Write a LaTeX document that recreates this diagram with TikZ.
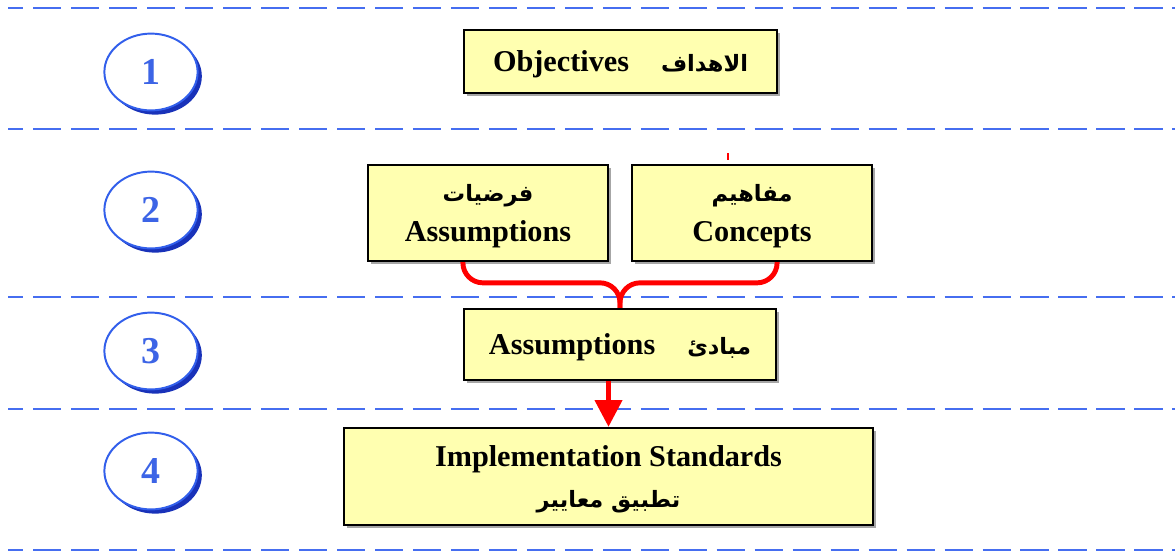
\documentclass[tikz,border=0pt]{standalone}
\usepackage{fontspec}
\setmainfont{Liberation Serif}
\newfontfamily\arabicfont[Script=Arabic]{DejaVu Sans}
\TeXXeTstate=1
\usetikzlibrary{arrows.meta, calc, positioning, shapes.geometric, shadows}

\definecolor{lineblue}{RGB}{70,110,240}
\definecolor{ringblue}{RGB}{50,95,235}
\definecolor{shadeblue}{RGB}{25,50,185}
\definecolor{numblue}{RGB}{60,100,230}
\definecolor{boxyellow}{RGB}{255,255,176}
\newcommand{\arab}[1]{{\arabicfont\fontsize{16}{29}\selectfont\beginR #1\endR}}

\begin{document}
\begin{tikzpicture}[
  x=0.025cm, y=-0.025cm,
  box/.style={rectangle, draw, line width=1.5pt, fill=boxyellow, align=center,
    inner sep=0pt, text depth=0pt, font=\fontsize{21.5}{29}\selectfont\bfseries,
    drop shadow={shadow xshift=2pt, shadow yshift=-2pt, fill=black!35, opacity=1}},
  level/.style={ellipse, draw=ringblue, line width=1.4pt, fill=white,
    minimum width=2.33cm, minimum height=1.92cm, text=numblue,
    font=\fontsize{27}{30}\selectfont\bfseries,
    drop shadow={shadow xshift=3pt, shadow yshift=-3pt, fill=shadeblue, opacity=1}},
  sep/.style={draw=lineblue, line width=1.4pt, dash pattern=on 20pt off 7pt, dash phase=9pt},
  brace/.style={draw=red, line width=3.5pt, rounded corners=0.5cm},
  arrow/.style={draw=red, line width=3.5pt, -{Triangle[width=19pt, length=19pt]}}
]
\useasboundingbox (0,0) rectangle (1175,554);

% Separators
\foreach \y in {8,129,297,409,550}
  \draw[sep] (8,\y) -- (1175,\y);

% Level numbers
\foreach \n/\y in {1/72,2/210,3/351,4/471}
  \node[level] (lv\n) at (151,\y) {\n};

% Boxes
\node[box, minimum width=7.83cm, minimum height=1.58cm] (obj) at (620.5,61.5)
  {Objectives\hspace{0.8cm}\arab{الاهداف}};
\node[box, minimum width=6cm, minimum height=2.4cm] (assum) at (488,213)
  {\arab{فرضيات}\\Assumptions};
\node[box, minimum width=6cm, minimum height=2.4cm] (conc) at (752,213)
  {\arab{مفاهيم}\\Concepts};
\node[box, minimum width=7.8cm, minimum height=1.78cm] (mid) at (620,344.5)
  {Assumptions\hspace{0.8cm}\arab{مبادئ}};
\node[box, minimum width=13.23cm, minimum height=2.43cm] (impl) at (608.5,476.5)
  {Implementation Standards\\\arab{تطبيق معايير}};

% Brace into the principles
\coordinate (tip) at (mid.north);
\draw[brace] (assum.south -| mid.west) |- ($(tip)+(0,-25)$) -- (tip);
\draw[brace] (conc.south -| mid.east) |- ($(tip)+(0,-25)$) -- (tip);

% Arrow down
\draw[arrow] (mid.south -| impl.north) -- (impl.north);

% stray mark
\draw[red, line width=0.8pt] (728,153) -- (728,160);

\end{tikzpicture}
\end{document}
